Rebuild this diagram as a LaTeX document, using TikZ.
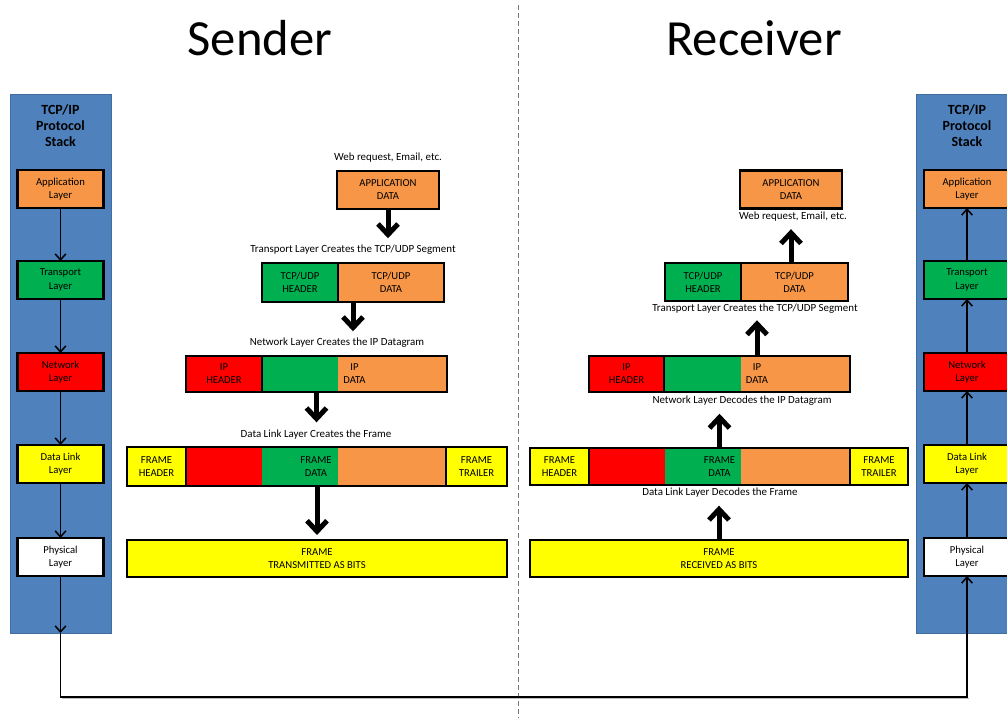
\documentclass[tikz,border=0pt]{standalone}
\usepackage{fontspec}
\setmainfont{Carlito}
\usetikzlibrary{arrows.meta,calc}
\newdimen\pxu \pxu=0.75pt
\definecolor{ofOrange}{HTML}{F79646}
\definecolor{ofGreen}{HTML}{00B050}
\definecolor{ofRed}{HTML}{FF0000}
\definecolor{ofYellow}{HTML}{FFFF00}
\definecolor{ofBlue}{HTML}{4F81BD}
\definecolor{ofBlueEdge}{HTML}{3F6E9F}
\begin{document}
\begin{tikzpicture}[x=0.75pt,y=-0.75pt,
  every node/.style={inner sep=0pt,outer sep=0pt},
  stackpanel/.style={fill=ofBlue,draw=ofBlueEdge,line width=1\pxu,minimum width=101\pxu,minimum height=539\pxu},
  stacktitle/.style={align=center,font=\bfseries\fontsize{10.5}{12}\selectfont},
  layerbox/.style={draw=black,line width=2.5\pxu,minimum width=86\pxu,minimum height=38\pxu,align=center,font=\fontsize{8}{10}\selectfont},
  seg/.style={draw=black,line width=2.5\pxu,align=center,font=\fontsize{8}{9.75}\selectfont},
  captext/.style={font=\fontsize{8.2}{10}\selectfont},
  headtext/.style={font=\fontsize{38}{44}\selectfont,anchor=base},
  thinarrow/.style={line width=1.5\pxu,-{Straight Barb[length=4.5pt,width=8pt]}},
  fatarrow/.style={line width=5\pxu,-{Straight Barb[length=8pt,width=15pt]}},
]
\useasboundingbox (0,0) rectangle (1007,718);
\clip (0,0) rectangle (1007,718);

% divider between the two hosts
\draw[draw=black!55,line width=1\pxu,dash pattern=on 3.75pt off 2.25pt] (518,5) -- (518,718);

% headings
\node[headtext] (tSender) at (260,55) {Sender};
\node[headtext] (tReceiver) at (754,55) {Receiver};

% ---------------- protocol stacks ----------------
\node[stackpanel] (lstack) at (60.5,363.5) {};
\node[stacktitle] (lTitle) at (60.5,126) {TCP/IP\\Protocol\\Stack};
\node[layerbox,fill=ofOrange] (lApp) at (60.5,189) {Application\\Layer};
\node[layerbox,fill=ofGreen]  (lTra) at (60.5,280) {Transport\\Layer};
\node[layerbox,fill=ofRed]    (lNet) at (60.5,372) {Network\\Layer};
\node[layerbox,fill=ofYellow] (lDat) at (60.5,464) {Data Link\\Layer};
\node[layerbox,fill=white]    (lPhy) at (60.5,557) {Physical\\Layer};

\node[stackpanel] (rstack) at (966.5,363.5) {};
\node[stacktitle] (rTitle) at (967,126) {TCP/IP\\Protocol\\Stack};
\node[layerbox,fill=ofOrange] (rApp) at (967,189) {Application\\Layer};
\node[layerbox,fill=ofGreen]  (rTra) at (967,280) {Transport\\Layer};
\node[layerbox,fill=ofRed]    (rNet) at (967,372) {Network\\Layer};
\node[layerbox,fill=ofYellow] (rDat) at (967,464) {Data Link\\Layer};
\node[layerbox,fill=white]    (rPhy) at (967,557) {Physical\\Layer};

\draw[thinarrow] (lApp) -- (lTra);
\draw[thinarrow] (lTra) -- (lNet);
\draw[thinarrow] (lNet) -- (lDat);
\draw[thinarrow] (lDat) -- (lPhy);
\draw[thinarrow] (lPhy) -- (lPhy |- lstack.south);

\draw[thinarrow] (rTra) -- (rApp);
\draw[thinarrow] (rNet) -- (rTra);
\draw[thinarrow] (rDat) -- (rNet);
\draw[thinarrow] (rPhy) -- (rDat);

% physical link between the hosts, with a faint drop shadow
\coordinate (busL) at (60.5,697);
\coordinate (busR) at (967,697);
\draw[black!25,line width=1.5\pxu] ([shift={(1.5,1.5)}]busL) -- ([shift={(1.5,1.5)}]busR);
\draw[thinarrow] (lPhy |- lstack.south) -- (busL) -- (busR) -- (rPhy);

% ---------------- sender encapsulation ----------------
\node[captext] (webS) at (388,158) {Web request, Email, etc.};
\node[seg,fill=ofOrange,minimum width=102\pxu,minimum height=38\pxu] (appS) at (388,190) {APPLICATION\\DATA};

\node[captext] (capTS) at (353,250) {Transport Layer Creates the TCP/UDP Segment};
\node[seg,fill=ofGreen,minimum width=76\pxu,minimum height=39\pxu] (tcpHS) at (300,282.5) {TCP/UDP\\HEADER};
\node[seg,fill=ofOrange,minimum width=106\pxu,minimum height=39\pxu] (tcpDS) at (391,282.5) {TCP/UDP\\DATA};

\node[captext] (capNS) at (337,343) {Network Layer Creates the IP Datagram};
\fill[ofGreen] (262,356) rectangle (338,392);
\fill[ofOrange] (338,356) rectangle (447,392);
\node[seg,fill=ofRed,minimum width=76\pxu,minimum height=36\pxu] (ipHS) at (224,374) {IP\\HEADER};
\node[seg,minimum width=185\pxu,minimum height=36\pxu] (ipDS) at (354.5,374) {IP\\DATA};

\node[captext] (capDS) at (316,435) {Data Link Layer Creates the Frame};
\fill[ofRed] (186,447) rectangle (262,486);
\fill[ofGreen] (262,447) rectangle (338,486);
\fill[ofOrange] (338,447) rectangle (446,486);
\node[seg,fill=ofYellow,minimum width=59\pxu,minimum height=39\pxu] (frHS) at (156.5,466.5) {FRAME\\HEADER};
\node[seg,minimum width=260\pxu,minimum height=39\pxu] (frDS) at (316,466.5) {FRAME\\DATA};
\node[seg,fill=ofYellow,minimum width=61\pxu,minimum height=39\pxu] (frTS) at (476.5,466.5) {FRAME\\TRAILER};

\node[seg,fill=ofYellow,minimum width=380\pxu,minimum height=37\pxu] (bitsS) at (317,558.5) {FRAME\\TRANSMITTED AS BITS};

\coordinate (tcpSmid) at ($(tcpHS.south west)!0.5!(tcpDS.south east)$);
\coordinate (ipSmid) at ($(ipHS.south west)!0.5!(ipDS.south east)$);
\draw[fatarrow,shorten >=7\pxu] (appS) -- (appS |- capTS.north);
\draw[fatarrow,shorten >=7\pxu] (tcpSmid) -- (tcpSmid |- capNS.north);
\draw[fatarrow,shorten >=8\pxu] (ipSmid) -- (ipSmid |- capDS.north);
\draw[fatarrow,shorten >=5\pxu] (frDS.south -| bitsS.north) -- (bitsS.north);

% ---------------- receiver decapsulation ----------------
\node[seg,fill=ofOrange,minimum width=102\pxu,minimum height=38\pxu] (appR) at (791,189.5) {APPLICATION\\DATA};
\node[captext] (webR) at (793,217) {Web request, Email, etc.};

\node[seg,fill=ofGreen,minimum width=76\pxu,minimum height=38\pxu] (tcpHR) at (703,282) {TCP/UDP\\HEADER};
\node[seg,fill=ofOrange,minimum width=107\pxu,minimum height=38\pxu] (tcpDR) at (794.5,282) {TCP/UDP\\DATA};
\node[captext] (capTR) at (755,309) {Transport Layer Creates the TCP/UDP Segment};

\fill[ofGreen] (664,356) rectangle (741,392);
\fill[ofOrange] (741,356) rectangle (850,392);
\node[seg,fill=ofRed,minimum width=75\pxu,minimum height=36\pxu] (ipHR) at (626.5,374) {IP\\HEADER};
\node[seg,minimum width=186\pxu,minimum height=36\pxu] (ipDR) at (757,374) {IP\\DATA};
\node[captext] (capNR) at (742,401) {Network Layer Decodes the IP Datagram};

\fill[ofRed] (589,448) rectangle (665,485);
\fill[ofGreen] (665,448) rectangle (741,485);
\fill[ofOrange] (741,448) rectangle (850,485);
\node[seg,fill=ofYellow,minimum width=59\pxu,minimum height=37\pxu] (frHR) at (559.5,466.5) {FRAME\\HEADER};
\node[seg,minimum width=261\pxu,minimum height=37\pxu] (frDR) at (719.5,466.5) {FRAME\\DATA};
\node[seg,fill=ofYellow,minimum width=58\pxu,minimum height=37\pxu] (frTR) at (879,466.5) {FRAME\\TRAILER};
\node[captext] (capDR) at (720,493) {Data Link Layer Decodes the Frame};

\node[seg,fill=ofYellow,minimum width=378\pxu,minimum height=37\pxu] (bitsR) at (719,558.5) {FRAME\\RECEIVED AS BITS};

\draw[fatarrow,shorten >=8\pxu] (bitsR) -- (bitsR |- capDR.south);
\draw[fatarrow,shorten >=8\pxu] (frDR.north) -- (frDR.north |- capNR.south);
\draw[fatarrow,shorten >=6.5\pxu] (ipDR.north) -- (ipDR.north |- capTR.south);
\draw[fatarrow,shorten >=7.5\pxu] (appR.south |- tcpDR.north) -- (appR.south |- webR.south);
\end{tikzpicture}
\end{document}
